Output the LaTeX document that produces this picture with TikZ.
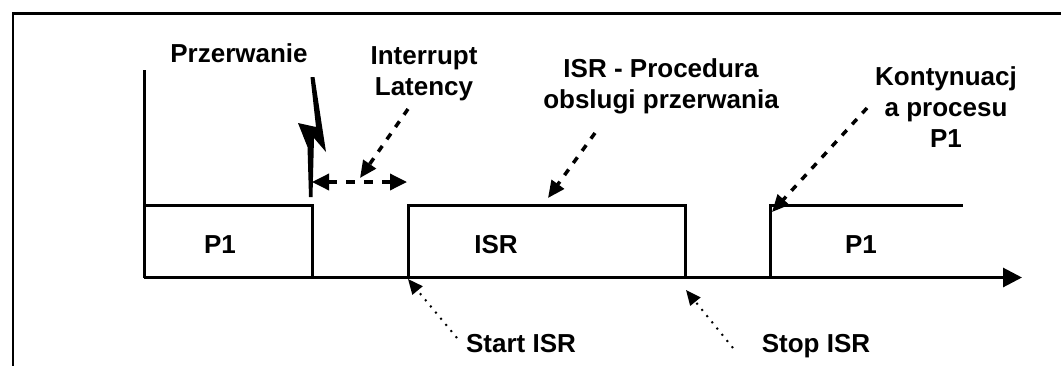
\documentclass[tikz,border=0pt]{standalone}
\usepackage{fontspec}
\setmainfont{Liberation Sans}
\usetikzlibrary{arrows.meta}
\begin{document}
\begin{tikzpicture}[x=1pt,y=-1pt,
  lbl/.style={font=\fontsize{26}{31}\selectfont\bfseries, align=center, inner sep=0pt},
  solidline/.style={line width=3pt},
  ptr/.style={line width=3.5pt, dash pattern=on 7pt off 8pt, -{Triangle[length=17pt,width=15pt]}},
  dptr/.style={line width=3.5pt, dash pattern=on 9pt off 9pt, {Triangle[length=17pt,width=16pt]}-{Triangle[length=17pt,width=16pt]}},
  tptr/.style={line width=2pt, dash pattern=on 2pt off 6pt, -{Triangle[length=15pt,width=13pt]}}]
\useasboundingbox (0,0) rectangle (1061,365);
\begin{scope}
  \clip (0,0) rectangle (1061,365);
  \draw[line width=2.5pt] (13,13.5) rectangle (1080,390);
\end{scope}

% axes
\draw[solidline] (144,70) -- (144,277.5);
\draw[solidline, -{Triangle[length=19pt,width=19pt]}] (144,277.5) -- (1022,277.5);

% boxes
\draw[solidline] (144,277.5) -- (144,205) -- (312,205) -- (312,277.5);
\draw[solidline] (408,277.5) -- (408,205) -- (685,205) -- (685,277.5);
\draw[solidline] (770,277.5) -- (770,205) -- (963,205);

% lightning bolt
\fill (310.5,77) -- (314.5,77) -- (326,152) -- (314,138) -- (312.5,197) -- (309,197)
      -- (307.5,147) -- (298,123) -- (316,127) -- cycle;

% texts
\node[lbl, anchor=base] (przer) at (239,62) {Przerwanie};
\node[lbl, anchor=north] (lat) at (424,46) {Interrupt\\Latency};
\node[lbl, anchor=north] (isrl) at (661,58) {ISR - Procedura\\obslugi przerwania};
\node[lbl, anchor=north] (kont) at (946,66) {Kontynuacj\\a procesu\\P1};
\node[lbl, anchor=base] (p1a) at (220,253) {P1};
\node[lbl, anchor=base] (isr) at (496,253) {ISR};
\node[lbl, anchor=base] (p1b) at (861,253) {P1};
\node[lbl, anchor=base] (start) at (521,352) {Start ISR};
\node[lbl, anchor=base] (stop) at (816,352) {Stop ISR};

% connector end points
\coordinate (latS) at (408,109);
\coordinate (latT) at (360,178);
\coordinate (dL) at (312,182);
\coordinate (dR) at (407,182);
\coordinate (isrS) at (595,133);
\coordinate (isrT) at (548,198);
\coordinate (kS) at (867,108);
\coordinate (kT) at (772,212);
\coordinate (stS) at (457,338);
\coordinate (stT) at (408,279);
\coordinate (spS) at (733,348);
\coordinate (spT) at (686,290);

\draw[ptr] (latS) -- (latT);
\draw[dptr] (dL) -- (dR);
\draw[ptr] (isrS) -- (isrT);
\draw[ptr] (kS) -- (kT);
\draw[tptr] (stS) -- (stT);
\draw[tptr] (spS) -- (spT);
\end{tikzpicture}
\end{document}
